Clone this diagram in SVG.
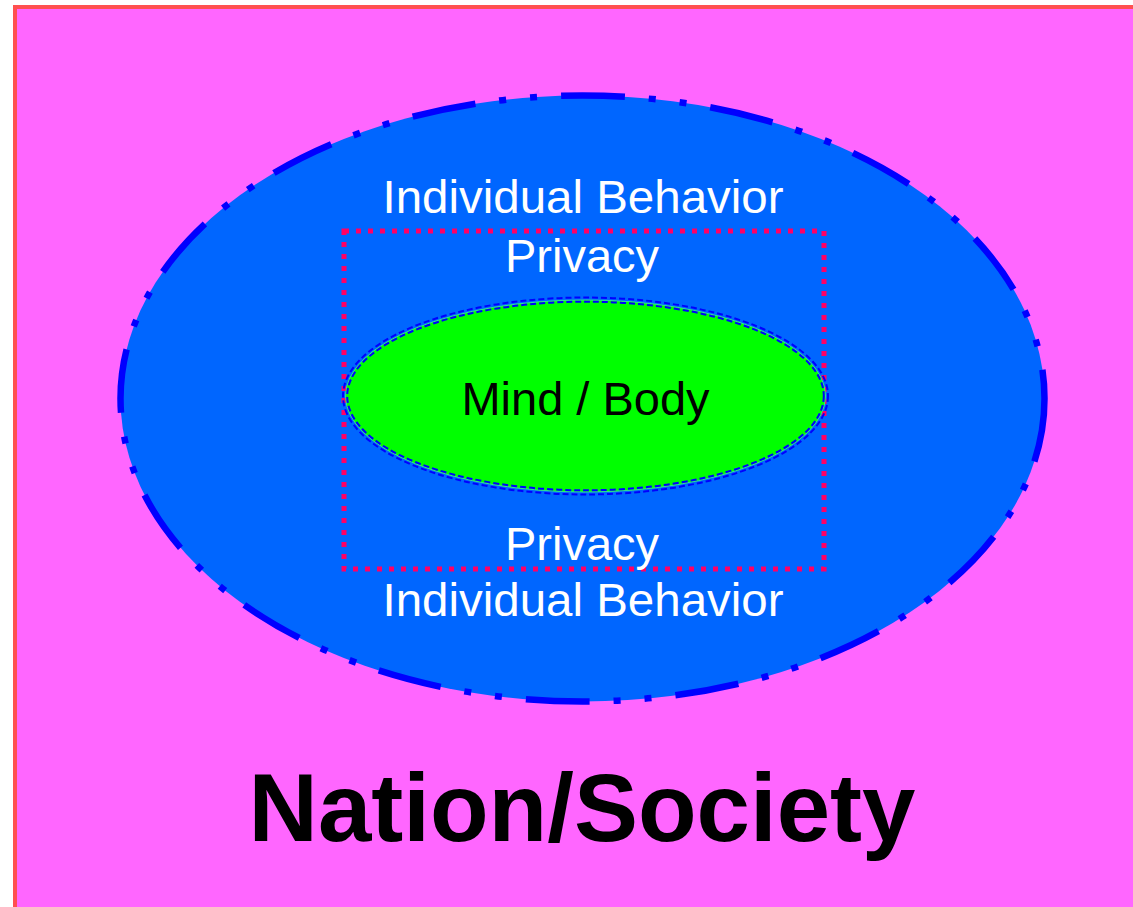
<svg xmlns="http://www.w3.org/2000/svg" width="1133" height="907" viewBox="0 0 1133 907">
<style>
.lbl{font-family:"Liberation Sans",Arial,sans-serif;font-size:47px;text-anchor:middle}
.w{fill:#FFFFFF}
.k{fill:#000000}
.big{font-family:"Liberation Sans",Arial,sans-serif;font-size:96px;font-weight:bold;text-anchor:middle;fill:#000000}
.dd{fill:none;stroke:#0000FF;stroke-width:2;stroke-dasharray:6 3}
</style>
<rect width="1133" height="907" fill="#FFFFFF"/>
<g id="nation">
<rect x="15" y="7" width="1140" height="920" fill="#FF66FF" stroke="#FF5050" stroke-width="4"/>
<text class="big" x="582" y="841">Nation/Society</text>
</g>
<g id="individual">
<ellipse cx="582.5" cy="398.5" rx="462" ry="303" fill="#0066FF" stroke="#0000FF" stroke-width="6.5" stroke-dasharray="64 24 7 24 7 24"/>
<text class="lbl w" x="583" y="213" textLength="401" lengthAdjust="spacingAndGlyphs">Individual Behavior</text>
<text class="lbl w" x="583" y="616" textLength="401" lengthAdjust="spacingAndGlyphs">Individual Behavior</text>
</g>
<g id="privacy">
<rect x="344" y="231" width="480" height="338" fill="none" stroke="#FF0066" stroke-width="5" stroke-dasharray="5 7"/>
<text class="lbl w" x="582" y="272">Privacy</text>
<text class="lbl w" x="582" y="560">Privacy</text>
</g>
<g id="mindbody">
<ellipse cx="585.5" cy="396" rx="240" ry="96" fill="#00FF00" stroke="#33DD99" stroke-width="1"/>
<ellipse class="dd" cx="585.5" cy="396" rx="242.5" ry="98.5"/>
<ellipse class="dd" cx="585.5" cy="396" rx="238.3" ry="94.3"/>
<text class="lbl k" x="585.5" y="415">Mind / Body</text>
</g>
<g id="connectors"></g>
</svg>
